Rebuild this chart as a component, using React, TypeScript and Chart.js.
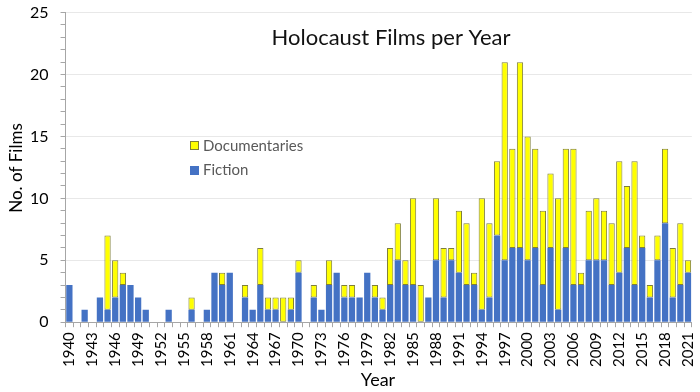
import React, { useEffect, useRef } from 'react';
import { Chart, registerables } from 'chart.js';

Chart.register(...registerables);

const TITLE = 'Holocaust Films per Year';
const Y_TITLE = 'No. of Films';
const X_TITLE = 'Year';
const SERIES_FICTION = 'Fiction';
const SERIES_DOCS = 'Documentaries';

const years = [
  '1940', '1941', '1942', '1943', '1944', '1945', '1946', '1947', '1948', '1949',
  '1950', '1951', '1952', '1953', '1954', '1955', '1956', '1957', '1958', '1959',
  '1960', '1961', '1962', '1963', '1964', '1965', '1966', '1967', '1968', '1969',
  '1970', '1971', '1972', '1973', '1974', '1975', '1976', '1977', '1978', '1979',
  '1980', '1981', '1982', '1983', '1984', '1985', '1986', '1987', '1988', '1989',
  '1990', '1991', '1992', '1993', '1994', '1995', '1996', '1997', '1998', '1999',
  '2000', '2001', '2002', '2003', '2004', '2005', '2006', '2007', '2008', '2009',
  '2010', '2011', '2012', '2013', '2014', '2015', '2016', '2017', '2018', '2019',
  '2020', '2021',
];

const fiction = [
  3, 0, 1, 0, 2, 1, 2, 3, 3, 2,
  1, 0, 0, 1, 0, 0, 1, 0, 1, 4,
  3, 4, 0, 2, 1, 3, 1, 1, 0, 1,
  4, 0, 2, 1, 3, 4, 2, 2, 2, 4,
  2, 1, 3, 5, 3, 3, 0, 2, 5, 2,
  5, 4, 3, 3, 1, 2, 7, 5, 6, 6,
  5, 6, 3, 6, 1, 6, 3, 3, 5, 5,
  5, 3, 4, 6, 3, 6, 2, 5, 8, 2,
  3, 4,
];

const documentaries = [
  0, 0, 0, 0, 0, 6, 3, 1, 0, 0,
  0, 0, 0, 0, 0, 0, 1, 0, 0, 0,
  1, 0, 0, 1, 0, 3, 1, 1, 2, 1,
  1, 0, 1, 0, 2, 0, 1, 1, 0, 0,
  1, 1, 3, 3, 2, 7, 3, 0, 5, 4,
  1, 5, 5, 1, 9, 6, 6, 16, 8, 15,
  10, 8, 6, 6, 9, 8, 11, 1, 4, 5,
  4, 5, 9, 5, 10, 1, 1, 2, 6, 4,
  5, 1,
];

const yTicks = [0, 5, 10, 15, 20, 25];

const FONT = 'Lato, "Open Sans", sans-serif';
const BLUE = '#4472C4';
const YELLOW = '#FFFF00';
const YELLOW_BORDER = '#7F7F3A';

const overlayPlugin = {
  id: 'overlayText',
  afterDraw(chart: any) {
    const ctx = chart.ctx;
    ctx.save();
    ctx.fillStyle = '#111';
    ctx.font = `22px ${FONT}`;
    ctx.textAlign = 'center';
    ctx.textBaseline = 'middle';
    ctx.fillText(TITLE, 391, 38);

    // axis titles
    ctx.fillStyle = '#000';
    ctx.font = `18px ${FONT}`;
    ctx.fillText(X_TITLE, 378, 380);
    ctx.save();
    ctx.translate(17, 168);
    ctx.rotate(-Math.PI / 2);
    ctx.font = `17px ${FONT}`;
    ctx.fillText(Y_TITLE, 0, 0);
    ctx.restore();

    ctx.font = `15px ${FONT}`;
    ctx.textAlign = 'left';
    // Documentaries
    ctx.fillStyle = YELLOW;
    ctx.fillRect(190.5, 141.5, 8, 8);
    ctx.strokeStyle = YELLOW_BORDER;
    ctx.lineWidth = 1;
    ctx.strokeRect(190.5, 141.5, 8, 8);
    ctx.fillStyle = '#595959';
    ctx.fillText(SERIES_DOCS, 203, 146);
    // Fiction
    ctx.fillStyle = BLUE;
    ctx.fillRect(190, 166, 9, 9);
    ctx.fillStyle = '#595959';
    ctx.fillText(SERIES_FICTION, 203, 170);
    ctx.restore();
  },
};

export default function App() {
  const ref = useRef<HTMLCanvasElement | null>(null);

  useEffect(() => {
    document.body.style.margin = '0';
    const canvas = ref.current;
    if (!canvas) return;
    const chart = new Chart(canvas, {
      type: 'bar',
      data: {
        labels: years,
        datasets: [
          {
            label: SERIES_FICTION,
            data: fiction,
            backgroundColor: BLUE,
            borderWidth: 0,
            stack: 's',
            categoryPercentage: 1,
            barPercentage: 0.82,
          },
          {
            label: SERIES_DOCS,
            data: documentaries,
            backgroundColor: YELLOW,
            borderColor: YELLOW_BORDER,
            borderWidth: 1,
            borderSkipped: false,
            stack: 's',
            categoryPercentage: 1,
            barPercentage: 0.82,
          },
        ],
      },
      options: {
        responsive: false,
        animation: false,
        devicePixelRatio: 1,
        layout: { padding: { top: 0, right: 0, bottom: 20, left: 27 } },
        plugins: {
          legend: { display: false },
          title: { display: false },
          tooltip: { enabled: false },
        },
        scales: {
          x: {
            stacked: true,
            offset: true,
            grid: {
              offset: true,
              drawOnChartArea: false,
              color: '#A6A6A6',
              tickColor: '#A6A6A6',
              tickLength: 5,
            },
            border: { color: '#A6A6A6' },
            ticks: {
              autoSkip: false,
              maxRotation: 90,
              minRotation: 90,
              color: '#000',
              padding: 5,
              font: { family: FONT, size: 15 },
              callback: (_v: any, i: number) => (i % 3 === 0 ? years[i] : ''),
            },
            title: { display: false },
          },
          y: {
            stacked: true,
            min: 0,
            max: 25,
            grid: {
              color: (c: any) => (c.tick && yTicks.includes(c.tick.value) && c.tick.value !== 0 ? '#E8E8E8' : 'rgba(0,0,0,0)'),
              tickColor: '#A6A6A6',
              tickLength: 14,
              tickBorderDash: [0, 9, 5, 100],
            },
            border: { color: '#A6A6A6' },
            ticks: {
              stepSize: 1,
              autoSkip: false,
              color: '#000',
              padding: 3,
              font: { family: FONT, size: 16 },
              callback: (v: any) => (yTicks.includes(Number(v)) ? String(v) : ''),
            },
            title: { display: false },
          },
        },
      },
      plugins: [overlayPlugin],
    });
    return () => chart.destroy();
  }, []);

  return (
    <div style={{ position: 'absolute', left: 0, top: 0, width: 700, height: 392, overflow: 'hidden', background: '#fff' }}>
      <canvas ref={ref} width={711} height={392} />
    </div>
  );
}
